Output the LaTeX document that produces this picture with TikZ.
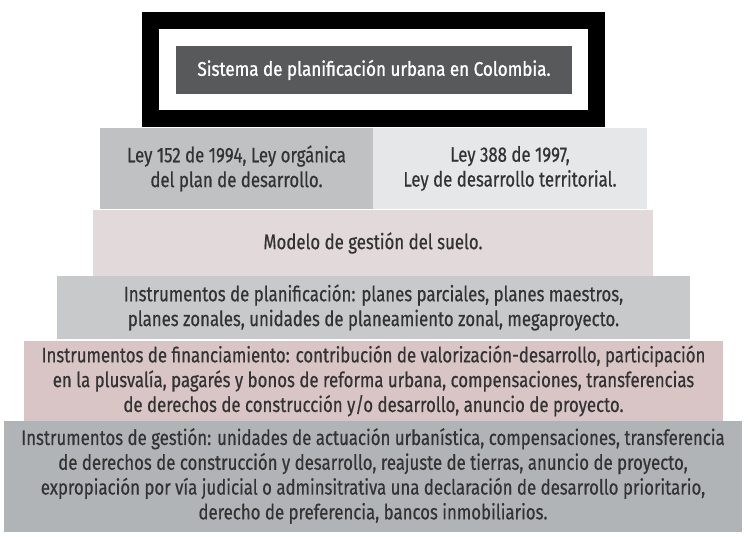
\documentclass[tikz,border=0pt]{standalone}
\usepackage{fontspec}
\setmainfont{Fira Sans}[FakeStretch=0.8,FakeBold=0.5]
\newfontfamily\titlefont{Fira Sans}[FakeStretch=0.86,FakeBold=1.2]

\definecolor{titlegray}{HTML}{58595B}
\definecolor{leygray}{HTML}{C0C1C3}
\definecolor{leylight}{HTML}{E6E7E9}
\definecolor{suelopink}{HTML}{E2D9DA}
\definecolor{plangray}{HTML}{C8C9CB}
\definecolor{finpink}{HTML}{D9C5C6}
\definecolor{gestgray}{HTML}{B1B4B7}
\definecolor{textgray}{HTML}{333333}

\begin{document}
\begin{tikzpicture}
  [x=1pt,y=-1pt,
   every node/.style={inner sep=0pt,outer sep=0pt,align=center,text=textgray,
     font=\fontsize{21}{24.8}\selectfont},
   tier/.style={rectangle,fill=#1}]
  \useasboundingbox (0,0) rectangle (751,537);

  % marco y titulo
  \node (frame) at (373.5,69.5) [draw=black,line width=17pt,fill=white,
    minimum width=446pt,minimum height=98pt] {};
  \node (title) at (374,70) [tier=titlegray,minimum width=396pt,minimum height=48pt,
    text=white,font=\titlefont\fontsize{19.8}{22}\selectfont]
    {Sistema de planificación urbana en Colombia.};

  % leyes
  \node (leyA) at (236.5,168.5) [tier=leygray,minimum width=273pt,minimum height=81pt]
    {Ley 152 de 1994, Ley orgánica\\del plan de desarrollo.};
  \node (leyB) at (510,168.5) [tier=leylight,minimum width=274pt,minimum height=81pt]
    {Ley 388 de 1997,\\Ley de desarrollo territorial.};

  % niveles de la piramide
  \node (suelo) at (373,243) [tier=suelopink,minimum width=560pt,minimum height=66pt]
    {Modelo de gestión del suelo.};
  \node (plan) at (373.5,307.5) [tier=plangray,minimum width=633pt,minimum height=63pt]
    {Instrumentos de planificación: planes parciales, planes maestros,\\
     planes zonales, unidades de planeamiento zonal, megaproyecto.};
  \node (fin) at (373.5,381) [tier=finpink,minimum width=699pt,minimum height=80pt]
    {Instrumentos de financiamiento: contribución de valorización-desarrollo, participación\\
     en la plusvalía, pagarés y bonos de reforma urbana, compensaciones, transferencias\\
     de derechos de construcción y/o desarrollo, anuncio de proyecto.};
  \node (gest) at (373,476) [tier=gestgray,minimum width=738pt,minimum height=111pt]
    {Instrumentos de gestión: unidades de actuación urbanística, compensaciones, transferencia\\
     de derechos de construcción y desarrollo, reajuste de tierras, anuncio de proyecto,\\
     expropiación por vía judicial o adminsitrativa una declaración de desarrollo prioritario,\\
     derecho de preferencia, bancos inmobiliarios.};

\end{tikzpicture}
\end{document}
